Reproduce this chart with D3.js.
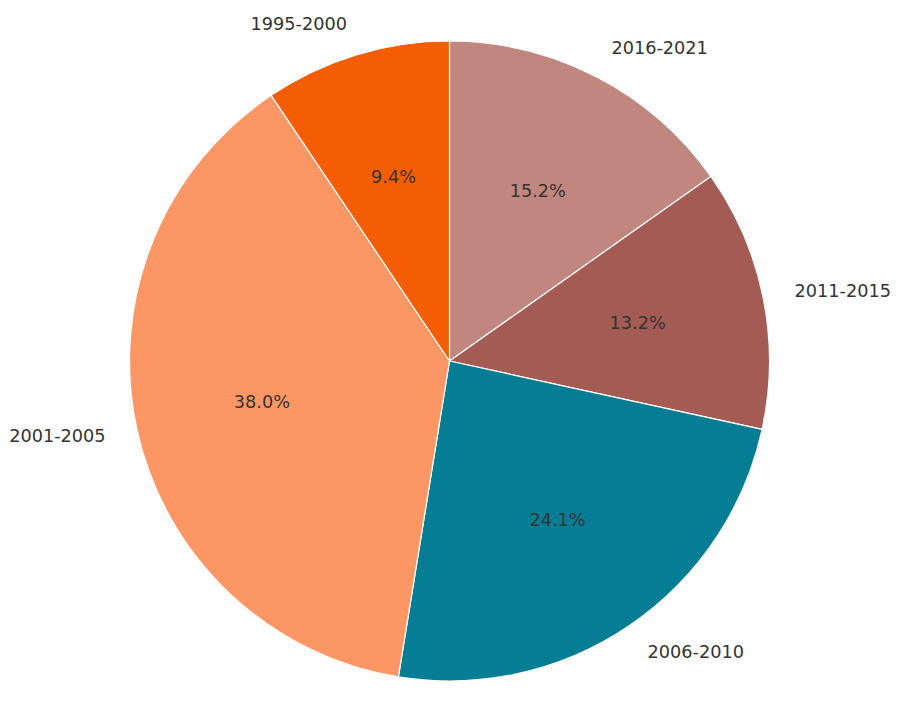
<!DOCTYPE html>
<html>
<head>
<meta charset="utf-8">
<script src="https://cdn.jsdelivr.net/npm/d3@7"></script>
<style>
  body { margin: 0; background: #fff; }
  text { font-family: "DejaVu Sans", sans-serif; fill: #333; }
</style>
</head>
<body>
<div id="chart"></div>
<script>
const categories = ["2016-2021", "2011-2015", "2006-2010", "2001-2005", "1995-2000"];
const shares = [15.2, 13.2, 24.1, 38.0, 9.4];
const colors = ["#c1877f", "#a45b54", "#057d94", "#fc9765", "#f55d05"];

const w = 900, h = 722;
const cx = 449.5, cy = 361, r = 320;

const data = categories.map((c, i) => ({ cat: c, val: shares[i], col: colors[i] }));

const svg = d3.select("#chart")
	.append("svg")
	.attr("width", w)
	.attr("height", h);

const pie = d3.pie()
	.sort(null)
	.value(d => d.val);

const arc = d3.arc()
	.innerRadius(0)
	.outerRadius(r);

const arcs = pie(data);

const g = svg.append("g")
	.attr("transform", `translate(${cx}, ${cy})`);

g.selectAll("path")
	.data(arcs)
	.enter()
	.append("path")
	.attr("d", arc)
	.attr("fill", d => d.data.col)
	.attr("stroke", "#fff")
	.attr("stroke-width", 1.2)
	.attr("stroke-linejoin", "round");

const mid = d => (d.startAngle + d.endAngle) / 2;

// outer labels at 1.1 r
g.selectAll(".lab")
	.data(arcs)
	.enter()
	.append("text")
	.attr("class", "lab")
	.attr("x", d => 1.1 * r * Math.sin(mid(d)))
	.attr("y", d => -1.1 * r * Math.cos(mid(d)))
	.attr("text-anchor", d => Math.sin(mid(d)) > 0 ? "start" : "end")
	.attr("dominant-baseline", "central")
	.style("font-size", "17.7px")
	.text(d => d.data.cat);

// percentages at 0.6 r
g.selectAll(".pct")
	.data(arcs)
	.enter()
	.append("text")
	.attr("class", "pct")
	.attr("x", d => 0.6 * r * Math.sin(mid(d)))
	.attr("y", d => -0.6 * r * Math.cos(mid(d)))
	.attr("text-anchor", "middle")
	.attr("dominant-baseline", "central")
	.style("font-size", "17.7px")
	.text(d => d.data.val.toFixed(1) + "%");
</script>
</body>
</html>
